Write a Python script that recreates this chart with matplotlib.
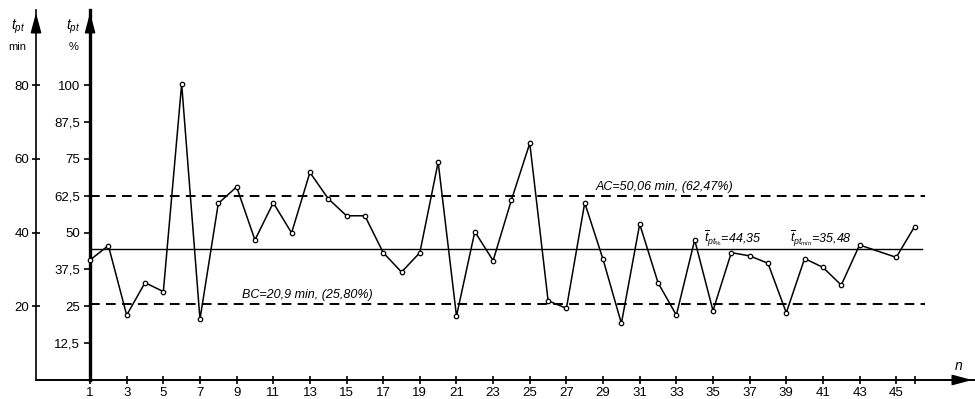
import matplotlib

matplotlib.use("Agg")
import matplotlib.pyplot as plt

plt.rcParams["font.family"] = ["Liberation Sans", "DejaVu Sans"]
plt.rcParams["mathtext.fontset"] = "custom"
plt.rcParams["mathtext.rm"] = "Liberation Sans"
plt.rcParams["mathtext.it"] = "Liberation Sans:italic"
plt.rcParams["lines.scale_dashes"] = False

# sample number and share of time (%), point 44 not marked in the source
n = [1, 2, 3, 4, 5, 6, 7, 8, 9, 10, 11, 12, 13, 14, 15, 16, 17, 18, 19, 20,
     21, 22, 23, 24, 25, 26, 27, 28, 29, 30, 31, 32, 33, 34, 35, 36, 37, 38,
     39, 40, 41, 42, 43, 45, 46]
t_pct = [40.7, 45.6, 22.0, 33.0, 30.0, 100.4, 20.6, 59.9, 65.5, 47.5, 60.1,
         49.9, 70.4, 61.5, 55.7, 55.7, 43.2, 36.6, 43.2, 73.9, 21.7, 50.3,
         40.5, 61.1, 80.3, 26.9, 24.3, 60.1, 40.9, 19.2, 52.9, 33.0, 22.0,
         47.5, 23.5, 43.2, 42.1, 39.6, 22.8, 41.2, 38.2, 32.2, 45.8, 41.6,
         52.0]

ac_pct = 62.47
bc_pct = 25.80
mean_pct = 44.35

pct_ticks = [12.5, 25, 37.5, 50, 62.5, 75, 87.5, 100]
min_ticks = [20, 40, 60, 80]
x_ticks = list(range(1, 46, 2))
MIN_TO_PCT = 1.25

fig = plt.figure(figsize=(9.75, 3.99), dpi=100)
ax = fig.add_axes([36 / 975, 19 / 399, 939 / 975, 370 / 399])
ax.set_xlim(-1.95, 49.3)
ax.set_ylim(0, 125.5)

for s in ["top", "right"]:
    ax.spines[s].set_visible(False)
ax.spines["left"].set_linewidth(1.2)
ax.spines["bottom"].set_linewidth(1.4)

# min axis on the left spine
ax.set_yticks([v * MIN_TO_PCT for v in min_ticks])
ax.set_yticklabels([str(v) for v in min_ticks], fontsize=9.5)
ax.tick_params(axis="y", direction="inout", length=6, width=1.2, pad=2)

ax.set_xticks(x_ticks + [46])
ax.set_xticklabels([str(v) for v in x_ticks] + [""], fontsize=9.5)
ax.tick_params(axis="x", direction="inout", length=6, width=1.2, pad=2)

# percent axis
loc = (1 - ax.get_xlim()[0]) / (ax.get_xlim()[1] - ax.get_xlim()[0])
sec = ax.secondary_yaxis(loc)
sec.spines["left"].set_linewidth(2.4)
sec.set_yticks(pct_ticks)
sec.set_yticklabels([f"{v:g}".replace(".", ",") for v in pct_ticks], fontsize=9.5)
sec.tick_params(axis="y", length=4, width=1.2, pad=3)

# arrows
arrow = dict(arrowstyle="-|>,head_length=1.2,head_width=0.32", color="black", lw=1.2)
for xa in [0, loc]:
    ax.annotate("", xy=(xa, 1.0), xytext=(xa, 0.94), xycoords="axes fraction",
                arrowprops=arrow, annotation_clip=False)
ax.annotate("", xy=(1.0, 0), xytext=(0.97, 0), xycoords="axes fraction",
            arrowprops=arrow, annotation_clip=False)

# reference lines
x_end = 46.55
ax.plot([1, x_end], [ac_pct, ac_pct], color="black", lw=1.4, dashes=(7, 4.5))
ax.plot([1, x_end], [bc_pct, bc_pct], color="black", lw=1.4, dashes=(7, 4.5))
ax.plot([1, 46.4], [mean_pct, mean_pct], color="black", lw=1.0)

ax.plot(n, t_pct, color="black", lw=1.1, marker="o", ms=3.2,
        mfc="white", mec="black", mew=0.9, zorder=3)

ax.text(28.6, 64.5, "AC=50,06 min, (62,47%)", fontsize=9, style="italic")
ax.text(9.3, 27.9, "BC=20,9 min, (25,80%)", fontsize=9, style="italic")
ax.text(34.5, 46.5, r"$\overline{t}_{pt_{\%}}$=44,35", fontsize=9, style="italic")
ax.text(39.2, 46.5, r"$\overline{t}_{pt_{min}}$=35,48", fontsize=9, style="italic")

ax.text(48.2, 3.5, "n", fontsize=10, style="italic")
ax.text(-2.95, 119, r"$t_{pt}$", fontsize=10, ha="center")
ax.text(-2.95, 112, "min", fontsize=8, ha="center")
ax.text(0.1, 119, r"$t_{pt}$", fontsize=10, ha="center")
ax.text(0.1, 112, "%", fontsize=8, ha="center")

fig.savefig("out.png", dpi=100, facecolor="white")
